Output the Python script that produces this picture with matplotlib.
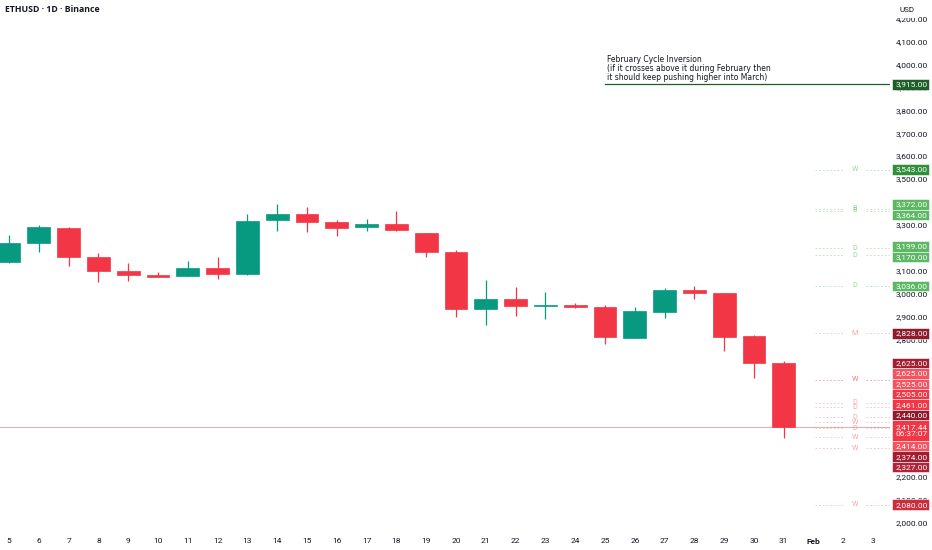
import matplotlib
matplotlib.use("Agg")
import matplotlib.pyplot as plt
from matplotlib.transforms import blended_transform_factory
from matplotlib.patches import Rectangle

# ---------------- data ----------------
day_labels = ['5', '6', '7', '8', '9', '10', '11', '12', '13', '14', '15', '16', '17', '18',
              '19', '20', '21', '22', '23', '24', '25', '26', '27', '28', '29', '30', '31',
              'Feb', '2', '3']
opens = [3140, 3221, 3289, 3162, 3100, 3080, 3079, 3113, 3089, 3323, 3348, 3313, 3291, 3306,
         3268, 3182, 2936, 2977, 2946, 2952, 2945, 2809, 2921, 3019, 3004, 2818, 2699]
closes = [3223, 3291, 3162, 3102, 3082, 3076, 3115, 3089, 3319, 3350, 3313, 3288, 3304, 3278,
          3182, 2933, 2977, 2948, 2952, 2945, 2812, 2924, 3019, 3003, 2812, 2700, 2417.44]
highs = [3258, 3301, 3292, 3178, 3135, 3096, 3143, 3160, 3349, 3393, 3379, 3323, 3326, 3362,
         3268, 3192, 3061, 3032, 3009, 2962, 2953, 2943, 3026, 3036, 3005, 2820, 2709]
lows = [3135, 3182, 3124, 3051, 3057, 3074, 3078, 3064, 3085, 3276, 3272, 3253, 3276, 3275,
        3163, 2898, 2865, 2904, 2890, 2940, 2783, 2809, 2895, 2979, 2752, 2634, 2370]

y_ticks = list(range(2000, 4201, 100))

level_prices = [3543, 3372, 3364, 3199, 3170, 3036, 2828, 2625, 2625, 2525, 2505, 2461, 2440,
                2414, 2374, 2327, 2080]
level_letters = ['W', 'B', 'B', 'D', 'D', 'D', 'M', 'W', 'W', 'D', 'D', 'D', 'W', 'D', 'W', 'W', 'W']
level_colors = ['#2f8f3a', '#5cb862', '#5cb862', '#5cb862', '#5cb862', '#5cb862', '#8e1a2b',
                '#a11d2f', '#f7525f', '#f7525f', '#f23645', '#f23645', '#8e1a2b', '#f7525f',
                '#a11d2f', '#b0233a', '#cc2c3b']

cycle_price = 3915
cycle_text = ("February Cycle Inversion\n(if it crosses above it during February then\n"
              "it should keep pushing higher into March)")
current_price = 2417.44
countdown = "06:37:07"

# ---------------- figure ----------------
W, H = 932, 550
fig = plt.figure(figsize=(W / 100, H / 100), dpi=100)
fig.patch.set_facecolor('white')
ax_right_px = 890
ax_bottom_px = 532
ax = fig.add_axes([0, 1 - ax_bottom_px / H, ax_right_px / W, ax_bottom_px / H])
ax.set_facecolor('white')
for s in ax.spines.values():
    s.set_visible(False)
ax.set_xticks([])
ax.set_yticks([])

ymin, ymax = 1960.7, 4283.8
spacing = 29.8
xmin = -9 / spacing
xmax = xmin + ax_right_px / spacing
ax.set_xlim(xmin, xmax)
ax.set_ylim(ymin, ymax)
ppu = ax_bottom_px / (ymax - ymin)  # pixels per price unit

GREEN = '#089981'
RED = '#f23645'

# candles
bw = 0.77
for i, (o, h, l, c) in enumerate(zip(opens, highs, lows, closes)):
    col = GREEN if c >= o else RED
    ax.vlines(i, l, h, color=col, lw=0.9, zorder=2)
    bottom = min(o, c)
    height = max(abs(c - o), 1.2 / ppu)
    ax.add_patch(Rectangle((i - bw / 2, bottom), bw, height, facecolor=col,
                           edgecolor=col, lw=0.5, zorder=3))

# current price line
ax.axhline(current_price, color='#f7a3aa', lw=0.7, zorder=1)

# level dashed lines
x0f, x1f, xlf = 815 / ax_right_px, 1.0, 855 / ax_right_px
trl = blended_transform_factory(ax.transAxes, ax.transData)
for p, letter, col in zip(level_prices, level_letters, level_colors):
    lc = '#8fcc95' if col in ('#5cb862', '#2f8f3a') else '#f29aa2'
    ax.plot([x0f, xlf - 0.012], [p, p], transform=trl, color=lc, lw=0.6, ls=(0, (2.2, 2.2)),
            alpha=0.6, zorder=1)
    ax.plot([xlf + 0.012, x1f], [p, p], transform=trl, color=lc, lw=0.6, ls=(0, (2.2, 2.2)),
            alpha=0.6, zorder=1)
    ax.text(xlf, p, letter, transform=trl, color=lc, fontsize=5.2, ha='center', va='center',
            alpha=0.85, family='Roboto', zorder=1)

# cycle line + annotation
ax.plot([605 / ax_right_px, 1.0], [cycle_price, cycle_price], transform=trl,
        color='#1e5e28', lw=0.9, zorder=2)
ax.text(607 / ax_right_px, cycle_price + 2.0 / ppu, cycle_text, transform=trl, fontsize=6.1,
        color='#131722', ha='left', va='bottom', linespacing=1.02, family='DejaVu Sans',
        fontstretch='condensed')

# x tick labels
trx = blended_transform_factory(ax.transData, fig.transFigure)
for i, lab in enumerate(day_labels):
    ax.text(i, 1 - 541 / H, lab, transform=trx, fontsize=6, ha='center', va='center',
            color='#131722', family='Roboto', fontweight='bold' if lab == 'Feb' else 'normal',
            clip_on=False)

trr = blended_transform_factory(fig.transFigure, ax.transData)

# price labels (stacked without overlap, clusters centred)
labels = [(cycle_price, f"{cycle_price:,.2f}", '#1e5e28', 1)]
for p, col in zip(level_prices, level_colors):
    labels.append((p, f"{p:,.2f}", col, 1))
labels.append((current_price, f"{current_price:,.2f}\n{countdown}", RED, 2))
labels.sort(key=lambda r: -r[0])
box_h = 10.4 / ppu
groups = [[lab] for lab in labels]


def g_center(g):
    return sum(m[0] for m in g) / len(g)


def g_height(g):
    return sum(m[3] for m in g) * box_h


changed = True
while changed:
    changed = False
    for k in range(len(groups) - 1):
        a, b = groups[k], groups[k + 1]
        a_bot = g_center(a) - g_height(a) / 2
        b_top = g_center(b) + g_height(b) / 2
        if b_top > a_bot:
            groups[k] = a + b
            del groups[k + 1]
            changed = True
            break

boxes = []
for g in groups:
    top = g_center(g) + g_height(g) / 2
    for p, txt, col, n in g:
        hh = n * box_h
        boxes.append((top - hh, top))
        ax.add_patch(Rectangle((892 / W, top - hh), 37 / W, hh, transform=trr, facecolor=col,
                               edgecolor='white', lw=0.4, clip_on=False, zorder=6))
        ax.text(927.5 / W, top - hh / 2, txt, transform=trr, fontsize=6, ha='right',
                va='center', color='white', family='Roboto', linespacing=1.25,
                clip_on=False, zorder=7)
        top -= hh

# right axis tick labels (skip those fully hidden behind a price label)
half_txt = 3.0 / ppu
for t in y_ticks:
    hidden = any(b0 <= t - half_txt and t + half_txt <= b1 for b0, b1 in boxes)
    if hidden:
        continue
    ax.text(928 / W, t, f"{t:,.2f}", transform=trr, fontsize=6, ha='right', va='center',
            color='#131722', family='Roboto', clip_on=False, zorder=5)

# title and currency
fig.text(5 / W, 1 - 10 / H, "ETHUSD · 1D · Binance", fontsize=6.3, fontweight='bold',
         color='#131722', ha='left', va='center', family='Open Sans')
fig.text(907 / W, 1 - 10 / H, "USD", fontsize=5.8, color='#131722', ha='center',
         va='center', family='Roboto',
         bbox=dict(facecolor='white', edgecolor='none', pad=3.5), zorder=10)

fig.savefig("out.png", dpi=100, facecolor='white')
